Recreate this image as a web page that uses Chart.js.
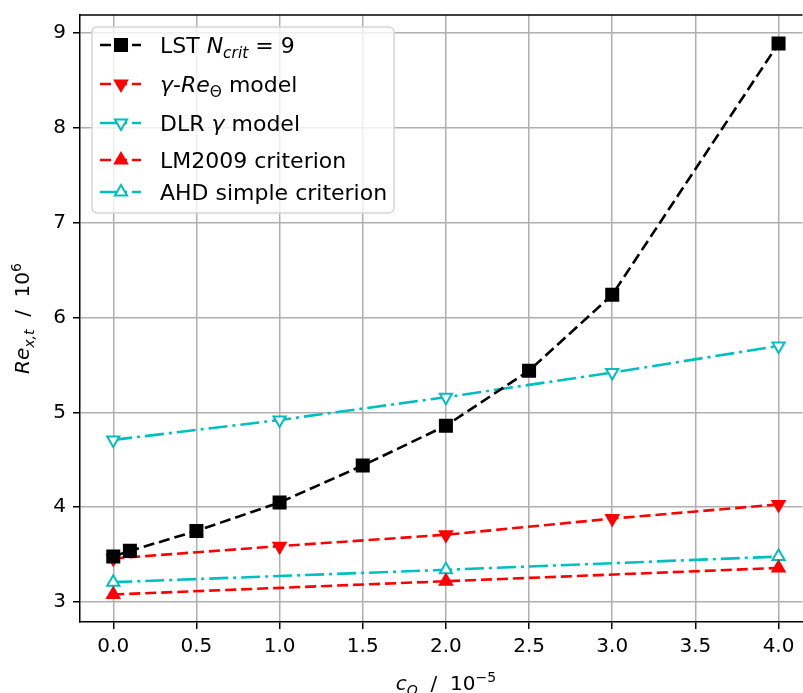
<!DOCTYPE html>
<html>
<head>
<meta charset="utf-8">
<script src="https://cdn.jsdelivr.net/npm/chart.js@4.4.1/dist/chart.umd.min.js"></script>
<style>
  body { margin: 0; background: #fff; overflow: hidden; }
  #wrap { width: 803px; height: 693px; overflow: hidden; }
</style>
</head>
<body>
<div id="wrap"><canvas id="transChart" width="813" height="693"></canvas></div>
<script>
// values (Re_x,t in 1e6, c_O in 1e-5)
const xLst = [0, 0.1, 0.5, 1, 1.5, 2, 2.5, 3, 4];
const yLst = [3.48, 3.54, 3.75, 4.05, 4.44, 4.86, 5.44, 6.24, 8.89];
const xModel = [0, 1, 2, 3, 4];
const yGammaRe = [3.46, 3.59, 3.71, 3.88, 4.03];
const yDlr = [4.71, 4.92, 5.16, 5.42, 5.70];
const xCrit = [0, 2, 4];
const yLm2009 = [3.08, 3.22, 3.36];
const yAhd = [3.21, 3.34, 3.48];

const xTicks = [0, 0.5, 1, 1.5, 2, 2.5, 3, 3.5, 4];
const yTicks = [3, 4, 5, 6, 7, 8, 9];

// rich text pieces: i = italic, sub / sup = sub/superscript
const seriesLabels = [
  [{ t: "LST " }, { t: "N", i: true }, { t: "crit", i: true, sub: true }, { t: " = 9" }],
  [{ t: "γ", i: true }, { t: "-" }, { t: "Re", i: true }, { t: "Θ", sub: true }, { t: " model" }],
  [{ t: "DLR " }, { t: "γ", i: true }, { t: " model" }],
  [{ t: "LM2009 criterion" }],
  [{ t: "AHD simple criterion" }],
];
const xTitle = [{ t: "c", i: true }, { t: "O", i: true, sub: true }, { t: "  /  10" }, { t: "−5", sup: true }];
const yTitle = [{ t: "Re", i: true }, { t: "x,t", i: true, sub: true }, { t: "  /  10" }, { t: "6", sup: true }];

const FONT = '"DejaVu Sans"';
const BLACK = "#000000";
const RED = "#ff0000";
const CYAN = "#00bfbf";
const DASH = [11, 5];
const DASHDOT = [19, 5, 3, 5];

const pts = (xs, ys) => xs.map((x, i) => ({ x: x, y: ys[i] }));

function richWidth(ctx, parts, size) {
  let w = 0;
  for (const p of parts) {
    const s = p.sub || p.sup ? size * 0.7 : size;
    ctx.font = (p.i ? "italic " : "") + s + "px " + FONT;
    w += ctx.measureText(p.t).width;
  }
  return w;
}

function drawRich(ctx, parts, x, y, size) {
  let cx = x;
  ctx.textBaseline = "alphabetic";
  ctx.textAlign = "left";
  for (const p of parts) {
    const s = p.sub || p.sup ? size * 0.7 : size;
    ctx.font = (p.i ? "italic " : "") + s + "px " + FONT;
    const dy = p.sub ? size * 0.24 : p.sup ? -size * 0.42 : 0;
    ctx.fillText(p.t, cx, y + dy);
    cx += ctx.measureText(p.t).width;
  }
}

function marker(ctx, ds, x, y) {
  ctx.save();
  ctx.setLineDash([]);
  ctx.lineWidth = ds.pointBorderWidth;
  ctx.strokeStyle = ds.borderColor;
  ctx.fillStyle = ds.pointBackgroundColor;
  const r = ds.pointRadius;
  ctx.beginPath();
  if (ds.pointStyle === "rect") {
    const h = r * Math.SQRT1_2;
    ctx.rect(x - h, y - h, 2 * h, 2 * h);
  } else {
    let rad = (ds.pointRotation || 0) * Math.PI / 180;
    for (let k = 0; k < 3; k++) {
      const px = x + Math.sin(rad) * r, py = y - Math.cos(rad) * r;
      k ? ctx.lineTo(px, py) : ctx.moveTo(px, py);
      rad += 2 * Math.PI / 3;
    }
    ctx.closePath();
  }
  ctx.fill();
  ctx.stroke();
  ctx.restore();
}

const extras = {
  id: "extras",
  afterDraw(chart) {
    const ctx = chart.ctx;
    const a = chart.chartArea;
    ctx.save();
    // top spine
    ctx.strokeStyle = BLACK;
    ctx.lineWidth = 1.5;
    ctx.beginPath();
    ctx.moveTo(a.left, a.top);
    ctx.lineTo(a.right, a.top);
    ctx.stroke();

    // axis titles
    ctx.fillStyle = BLACK;
    const xw = richWidth(ctx, xTitle, 20);
    drawRich(ctx, xTitle, 446 - xw / 2, 690, 20);
    const yw = richWidth(ctx, yTitle, 20);
    ctx.save();
    ctx.translate(29, (a.top + a.bottom) / 2);
    ctx.rotate(-Math.PI / 2);
    drawRich(ctx, yTitle, -yw / 2, 0, 20);
    ctx.restore();

    // legend box
    const bx = 92, by = 27, bw = 302, bh = 186, rr = 5;
    ctx.beginPath();
    ctx.roundRect(bx, by, bw, bh, rr);
    ctx.fillStyle = "rgba(255,255,255,0.8)";
    ctx.fill();
    ctx.strokeStyle = "#d6d6d6";
    ctx.lineWidth = 1.5;
    ctx.stroke();

    const rows = [45, 84, 123, 160, 192];
    chart.data.datasets.forEach((ds, i) => {
      const y = rows[i];
      ctx.save();
      ctx.strokeStyle = ds.borderColor;
      ctx.lineWidth = ds.borderWidth;
      ctx.setLineDash(ds.borderDash);
      ctx.beginPath();
      ctx.moveTo(100, y);
      ctx.lineTo(141, y);
      ctx.stroke();
      ctx.restore();
      marker(ctx, ds, 121, y);
      ctx.fillStyle = BLACK;
      drawRich(ctx, seriesLabels[i], 160, y + 7.5, 22);
    });
    ctx.restore();
  },
};

function series(xs, ys, color, dash, style, filled, rotation, radius) {
  return {
    data: pts(xs, ys),
    showLine: true,
    borderColor: color,
    borderWidth: 2.6,
    borderDash: dash,
    backgroundColor: color,
    pointStyle: style,
    pointRotation: rotation,
    pointRadius: radius,
    pointBorderWidth: 2,
    pointBackgroundColor: filled ? color : "#ffffff",
    pointBorderColor: color,
    tension: 0,
  };
}

const tickFont = { size: 20, family: FONT };

new Chart(document.getElementById("transChart").getContext("2d"), {
  type: "scatter",
  data: {
    datasets: [
      series(xLst, yLst, BLACK, DASH, "rect", true, 0, 8.5),
      series(xModel, yGammaRe, RED, DASH, "triangle", true, 180, 7),
      series(xModel, yDlr, CYAN, DASHDOT, "triangle", false, 180, 7),
      series(xCrit, yLm2009, RED, DASH, "triangle", true, 0, 7),
      series(xCrit, yAhd, CYAN, DASHDOT, "triangle", false, 0, 7),
    ],
  },
  options: {
    responsive: false,
    animation: false,
    layout: { padding: { top: 15, right: 0, left: 0, bottom: 0 } },
    plugins: {
      legend: { display: false },
      tooltip: { enabled: false },
    },
    scales: {
      x: {
        type: "linear",
        min: -0.2,
        max: 4.144,
        afterBuildTicks: (s) => { s.ticks = xTicks.map((v) => ({ value: v })); },
        afterFit: (s) => { s.height = 71; s.paddingLeft = 0; s.paddingRight = 0; },
        ticks: { callback: (v) => Number(v).toFixed(1), font: tickFont, color: BLACK, padding: 6, maxRotation: 0, autoSkip: false },
        grid: { color: "#b0b0b0", lineWidth: 1.5, tickColor: BLACK, tickLength: 7 },
        border: { color: BLACK, width: 1.5 },
      },
      y: {
        type: "linear",
        min: 2.79,
        max: 9.19,
        afterBuildTicks: (s) => { s.ticks = yTicks.map((v) => ({ value: v })); },
        afterFit: (s) => { s.width = 80; s.paddingTop = 0; s.paddingBottom = 0; },
        ticks: { callback: (v) => String(v), font: tickFont, color: BLACK, padding: 7, autoSkip: false },
        grid: { color: "#b0b0b0", lineWidth: 1.5, tickColor: BLACK, tickLength: 7 },
        border: { color: BLACK, width: 1.5 },
      },
    },
  },
  plugins: [extras],
});
</script>
</body>
</html>
